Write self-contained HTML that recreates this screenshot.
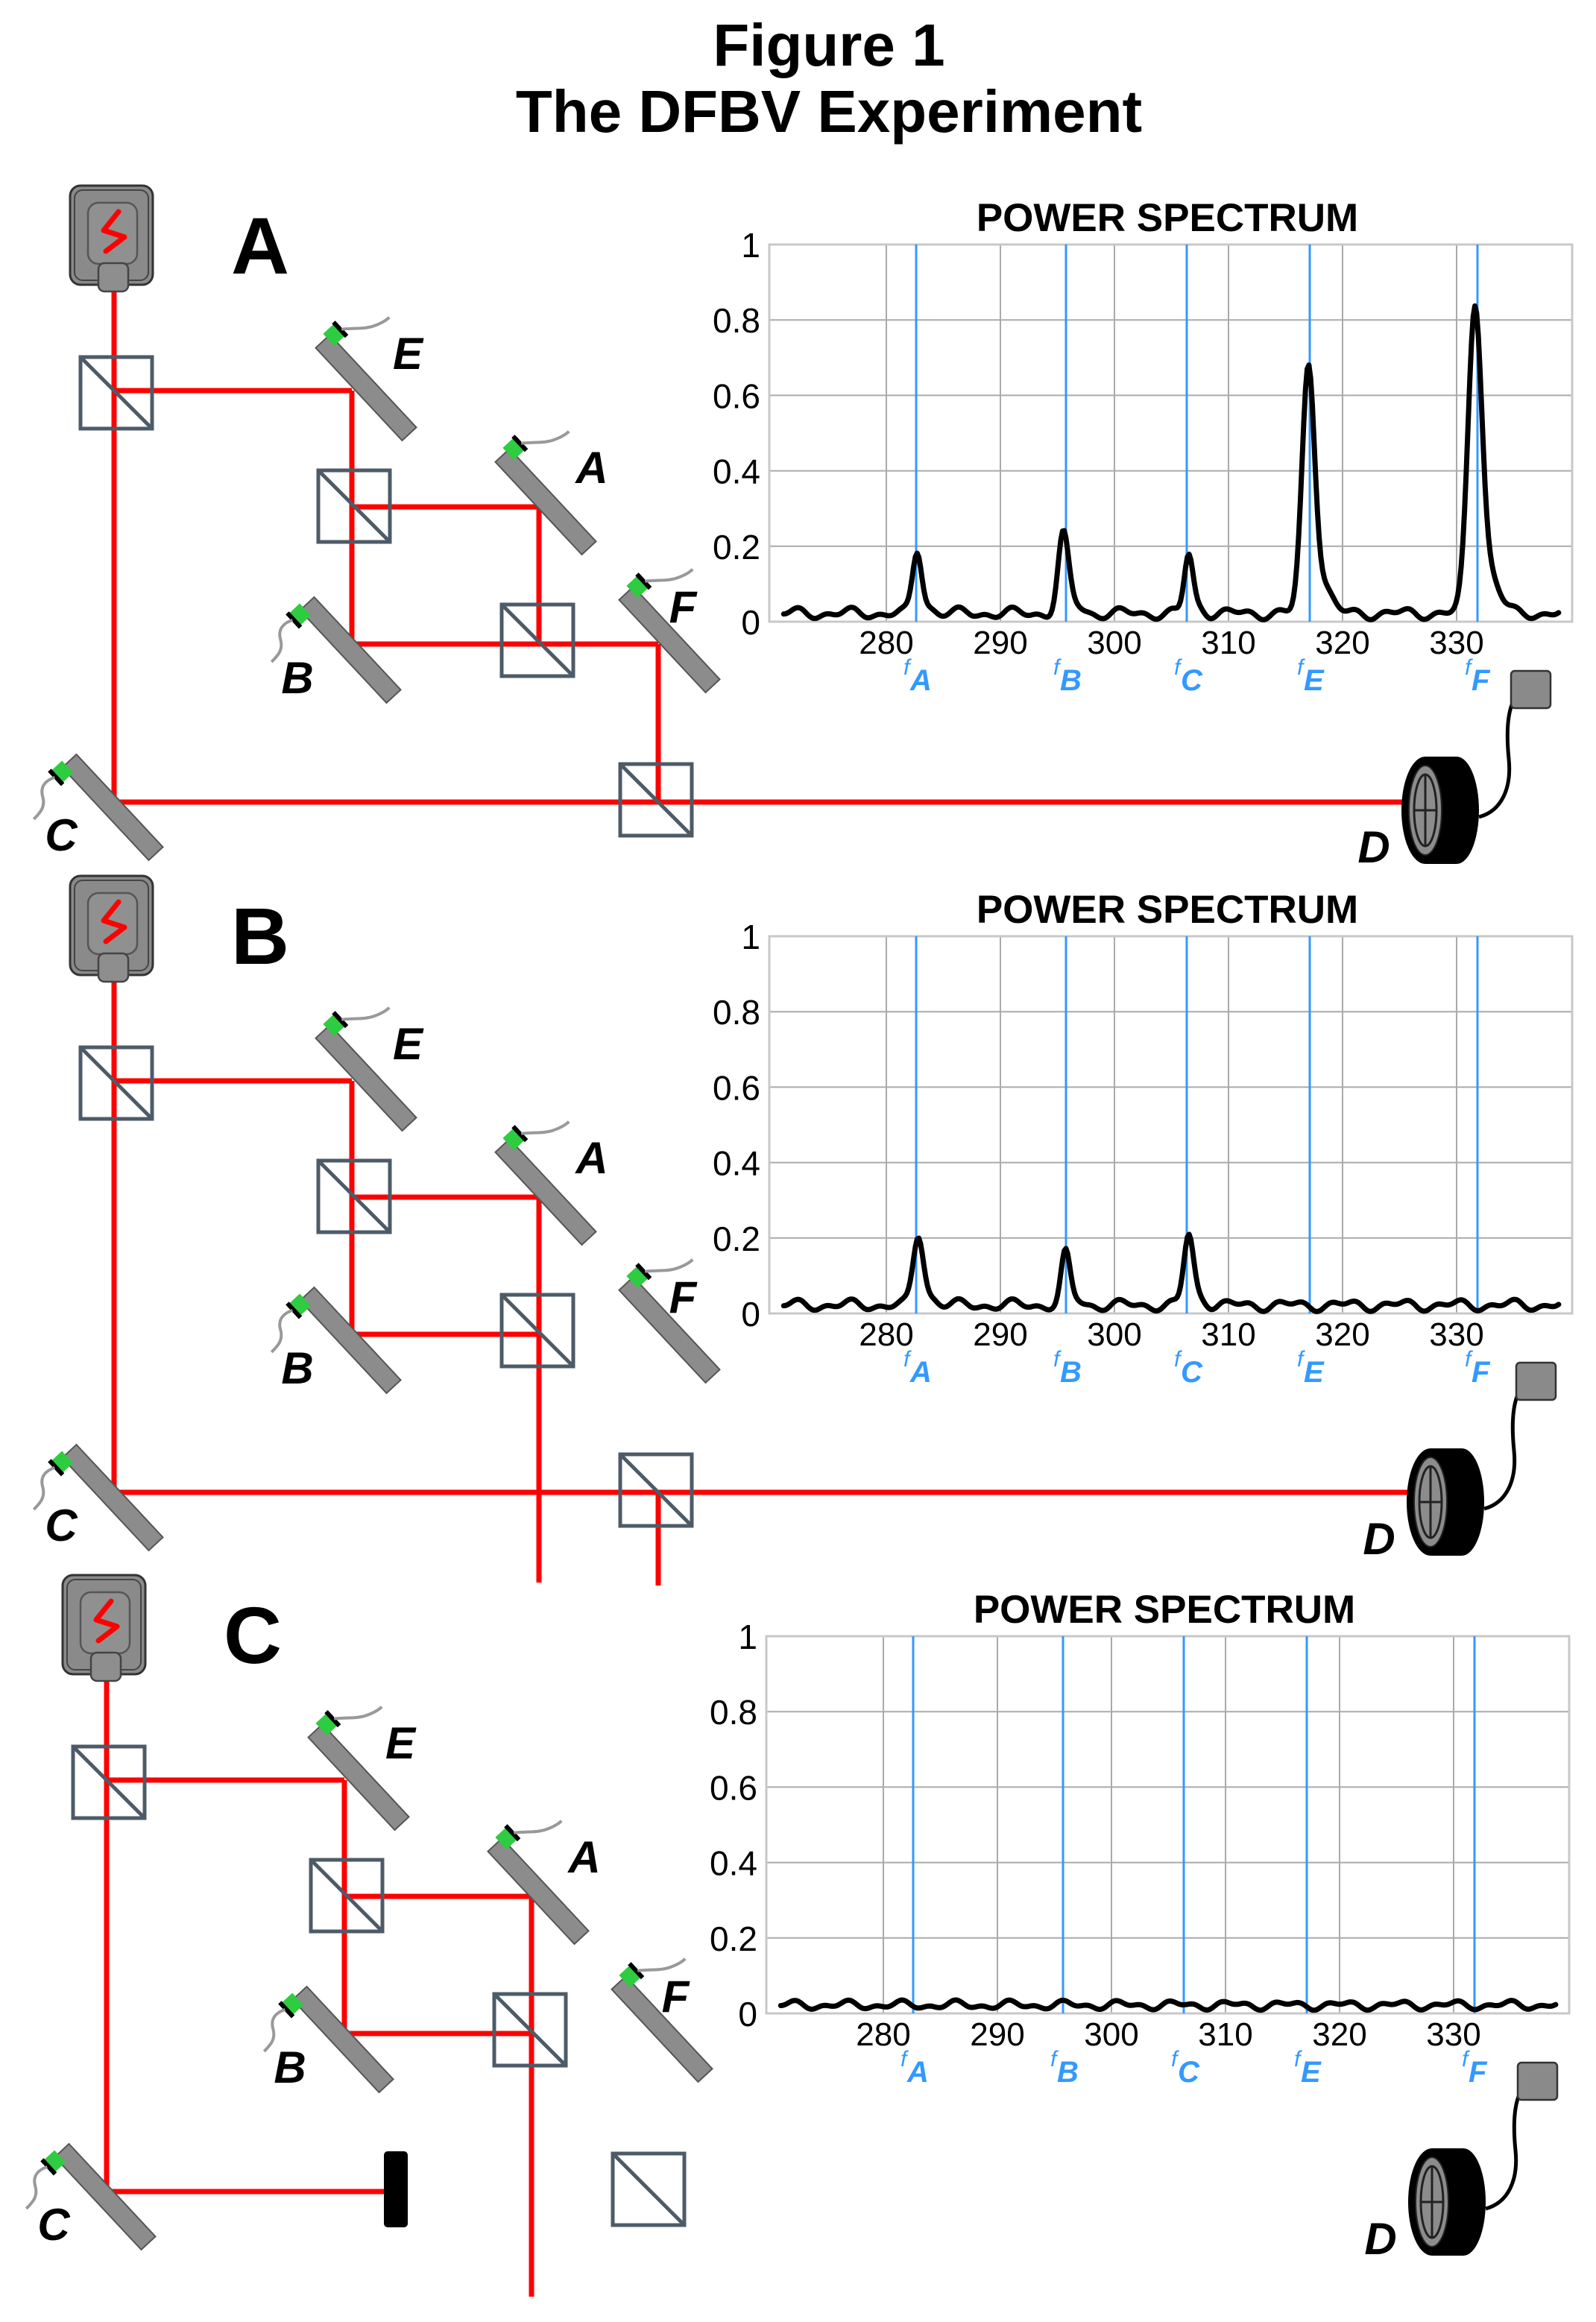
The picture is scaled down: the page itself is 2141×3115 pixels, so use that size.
<!DOCTYPE html>
<html><head><meta charset="utf-8">
<style>
html,body{margin:0;padding:0;background:#fff;}
svg{display:block;}
</style></head>
<body>
<svg id="s" xmlns="http://www.w3.org/2000/svg" width="2141" height="3115" viewBox="0 0 2141 3115">
<rect width="2141" height="3115" fill="#fff"/>
<text x="1112" y="88" text-anchor="middle" font-family="Liberation Sans, sans-serif" font-weight="bold" font-size="80">Figure 1</text>
<text x="1112" y="177" text-anchor="middle" font-family="Liberation Sans, sans-serif" font-weight="bold" font-size="80">The DFBV Experiment</text>
<g id="g"></g>
</svg>
<script>
(function(){
var out=[];
var F='font-family="Liberation Sans, sans-serif"';
var ux=Math.cos(47*Math.PI/180), uy=Math.sin(47*Math.PI/180);
var nx=uy, ny=-ux;
function line(x1,y1,x2,y2,c,w){out.push('<line x1="'+x1+'" y1="'+y1+'" x2="'+x2+'" y2="'+y2+'" stroke="'+c+'" stroke-width="'+w+'" stroke-linecap="butt"/>');}
function txt(x,y,s,size,extra){out.push('<text x="'+x+'" y="'+y+'" '+F+' font-size="'+size+'" '+(extra||'')+'>'+s+'</text>');}
function mirror(mx,my,side){
  var L=85,W=13,p=[];
  [[-1,-1],[-1,1],[1,1],[1,-1]].forEach(function(k){p.push((mx+ux*L*k[0]+nx*W*k[1]).toFixed(1)+','+(my+uy*L*k[0]+ny*W*k[1]).toFixed(1));});
  out.push('<polygon points="'+p.join(' ')+'" fill="#8c8c8c" stroke="#555" stroke-width="2"/>');
  var tx=mx-ux*L, ty=my-uy*L, s=side>0?1:-1;
  var cx=tx+nx*17*s+ux*4, cy=ty+ny*17*s+uy*4;
  var q=[];
  [[-10,-11],[-10,11],[10,11],[10,-11]].forEach(function(k){q.push((cx+nx*k[0]*s+ux*k[1]).toFixed(1)+','+(cy+ny*k[0]*s+uy*k[1]).toFixed(1));});
  out.push('<polygon points="'+q.join(' ')+'" fill="#2ecc40"/>');
  var ex=cx+nx*11*s, ey=cy+ny*11*s;
  line((ex-ux*13).toFixed(1),(ey-uy*13).toFixed(1),(ex+ux*13).toFixed(1),(ey+uy*13).toFixed(1),'#000',6);
  if(s>0){
    out.push('<path d="M'+(ex+2).toFixed(1)+','+(ey).toFixed(1)+' c15,-2 30,0 42,-4 s18,-8 22,-12" fill="none" stroke="#999" stroke-width="4"/>');
  } else {
    out.push('<path d="M'+(ex-2).toFixed(1)+','+(ey).toFixed(1)+' c-12,4 -20,12 -16,26 s-4,22 -12,30" fill="none" stroke="#999" stroke-width="4"/>');
  }
}
function bs(x,y){
  out.push('<rect x="'+x+'" y="'+y+'" width="96" height="96" fill="none" stroke="#4d5b68" stroke-width="5"/>');
  line(x,y,x+96,y+96,'#4d5b68',5);
}
function laser(dx,dy){
  out.push('<rect x="'+(94+dx)+'" y="'+(249+dy)+'" width="111" height="133" rx="14" fill="#8a8a8a" stroke="#333" stroke-width="3"/>');
  out.push('<rect x="'+(100+dx)+'" y="'+(255+dy)+'" width="99" height="121" rx="11" fill="none" stroke="#444" stroke-width="2"/>');
  out.push('<rect x="'+(118+dx)+'" y="'+(272+dy)+'" width="66" height="82" rx="14" fill="#909090" stroke="#555" stroke-width="2.5"/>');
  out.push('<rect x="'+(132+dx)+'" y="'+(353+dy)+'" width="40" height="38" rx="8" fill="#8e8e8e" stroke="#444" stroke-width="2.5"/>');
  out.push('<polyline points="'+(159+dx)+','+(284+dy)+' '+(139+dx)+','+(309+dy)+' '+(167+dx)+','+(318+dy)+' '+(142+dx)+','+(337+dy)+'" fill="none" stroke="#ff0000" stroke-width="7" stroke-linecap="round" stroke-linejoin="round"/>');
}
function detector(dx,dy){
  var bx=2027+dx, by=900+dy;
  out.push('<path d="M'+(2042+dx)+','+(928+dy)+' c-20,10 -22,50 -18,90 s-10,70 -40,78" fill="none" stroke="#000" stroke-width="5"/>');
  out.push('<rect x="'+bx+'" y="'+by+'" width="53" height="50" rx="5" fill="#8a8a8a" stroke="#333" stroke-width="2.5"/>');
  var cx=1912+dx, cy=1087+dy;
  out.push('<ellipse cx="'+(cx+42)+'" cy="'+cy+'" rx="30" ry="72" fill="#000"/>');
  out.push('<rect x="'+cx+'" y="'+(cy-72)+'" width="42" height="144" fill="#000"/>');
  out.push('<ellipse cx="'+cx+'" cy="'+cy+'" rx="32" ry="72" fill="#000"/>');
  out.push('<ellipse cx="'+cx+'" cy="'+cy+'" rx="22" ry="60" fill="#8c8c8c" stroke="#222" stroke-width="2"/>');
  out.push('<ellipse cx="'+cx+'" cy="'+cy+'" rx="15" ry="48" fill="none" stroke="#222" stroke-width="3"/>');
  line(cx,cy-48,cx,cy+48,'#222',3);
  line(cx-15,cy,cx+15,cy,'#222',3);
  txt(1843+dx,1157+dy,'D',60,'font-weight="bold" font-style="italic" text-anchor="middle"');
}
function chart(dx,dy,peaks,namp){
  var X0=1032+dx,X1=2109+dx,Y1=328+dy,Y0=834+dy;
  function px(f){return 1189+dx+(f-280)*15.3;}
  function py(v){return Y0-v*506;}
  txt(1566+dx,310+dy,'POWER SPECTRUM',53,'font-weight="bold" text-anchor="middle"');
  for(var i=1;i<=4;i++){line(X0,py(i*0.2).toFixed(1),X1,py(i*0.2).toFixed(1),'#aaa',2);}
  for(var k=0;k<6;k++){var gx=px(280+k*10).toFixed(1);line(gx,Y1,gx,Y0,'#aaa',2);}
  out.push('<rect x="'+X0+'" y="'+Y1+'" width="'+(X1-X0)+'" height="'+(Y0-Y1)+'" fill="none" stroke="#c8c8c8" stroke-width="3"/>');
  var yl=['0','0.2','0.4','0.6','0.8','1'];
  for(var i=0;i<6;i++){txt(1020+dx,(py(i*0.2)+17).toFixed(1),yl[i],46,'text-anchor="end"');}
  for(var k=0;k<6;k++){txt(px(280+k*10).toFixed(1),877+dy,String(280+k*10),44,'text-anchor="middle"');}
  var fl=[['A',1229],['B',1430],['C',1592],['E',1757],['F',1982]];
  fl.forEach(function(a){
    var lx=a[1]+dx;
    line(lx,Y1,lx,Y0,'#3399ff',3);
    txt(lx-17,905+dy,'f',30,'font-style="italic" fill="#3399ff"');
    txt(lx-8,926+dy,a[0],40,'font-weight="bold" font-style="italic" fill="#3399ff"');
  });
  var pts=[];
  for(var f=271;f<=339.01;f+=0.15){
    var v=0.022+namp*(0.01*Math.sin(f*1.3)+0.007*Math.sin(f*2.7+1.3));
    peaks.forEach(function(p){var z=(f-p[0])/p[2];v+=p[1]*Math.exp(-z*z/2);
      var z2=(f-p[0]-p[2]*2.2)/(p[2]*1.4);v+=p[1]*0.12*Math.exp(-z2*z2/2);});
    pts.push(px(f).toFixed(1)+','+py(v).toFixed(1));
  }
  out.push('<polyline points="'+pts.join(' ')+'" fill="none" stroke="#000" stroke-width="7" stroke-linejoin="round" stroke-linecap="round"/>');
}
function panel(dx,dy,variant,letter){
  var R='#ff0000',W=7;
  function b(x1,y1,x2,y2){line(x1+dx,y1+dy,x2+dx,y2+dy,R,W);}
  b(153,390,153,1076);
  b(153,524,472,524);
  b(472,524,472,864);
  b(472,680,723,680);
  if(variant==='A'){
    b(723,680,723,864);
    b(472,864,883,864);
    b(883,864,883,1076);
    b(153,1076,1900,1076);
  } else if(variant==='B'){
    b(723,680,723,1197);
    b(472,864,723,864);
    b(883,1076,883,1201);
    b(153,1076,1902,1076);
  } else {
    b(723,680,723,1217);
    b(472,864,723,864);
    b(153,1076,528,1076);
    out.push('<rect x="'+(525+dx)+'" y="'+(1022+dy)+'" width="32" height="102" rx="5" fill="#000"/>');
  }
  laser(dx,dy);
  bs(108+dx,479+dy);bs(427+dx,631+dy);bs(673+dx,811+dy);bs(832+dx,1025+dy);
  mirror(491+dx,520+dy,1);
  mirror(732+dx,673+dy,1);
  mirror(470+dx,872+dy,-1);
  mirror(898+dx,858+dy,1);
  mirror(151+dx,1083+dy,-1);
  var L='font-weight="bold" font-style="italic" text-anchor="middle"';
  txt(547+dx,495+dy,'E',60,L);
  txt(794+dx,648+dy,'A',60,L);
  txt(399+dx,930+dy,'B',60,L);
  txt(916+dx,835+dy,'F',60,L);
  txt(82+dx,1141+dy,'C',60,L);
  txt(349+dx,367+dy,letter,108,'font-weight="bold" text-anchor="middle"');
}
panel(0,0,'A','A');
chart(0,0,[[282.7,0.16,0.4],[295.5,0.2,0.45],[306.5,0.15,0.38],[317.0,0.64,0.55],[331.6,0.8,0.6]],1);
detector(0,0);
panel(0,926,'B','B');
chart(0,928,[[282.8,0.18,0.45],[295.7,0.13,0.38],[306.5,0.18,0.42]],1);
detector(7,928);
panel(-10,1864,'C','C');
chart(-4,1867,[],0.8);
detector(9,1867);
document.getElementById('g').innerHTML=out.join('');
})();
</script>
</body></html>
